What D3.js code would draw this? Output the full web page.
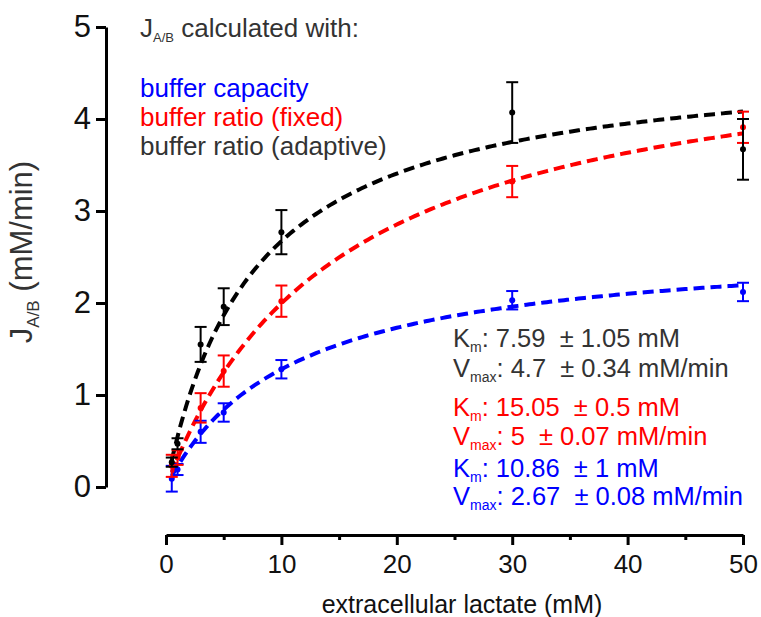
<!DOCTYPE html>
<html>
<head>
<meta charset="utf-8">
<script src="https://cdn.jsdelivr.net/npm/d3@7/dist/d3.min.js"></script>
<style>
  html, body { margin: 0; padding: 0; background: #fff; }
  svg { display: block; font-family: "Liberation Sans", Arial, sans-serif; }
  text { white-space: pre; }
</style>
</head>
<body>
<svg id="chart" width="761" height="617"></svg>
<script>
// Extracellular lactate concentrations (mM)
const conc = [0.5, 1, 3, 5, 10, 30, 50];

// J_A/B (mM/min), mean and error, for each calculation method
const capacityMean = [0.09, 0.19, 0.60, 0.81, 1.28, 2.03, 2.12];
const capacityErr  = [0.14, 0.06, 0.12, 0.10, 0.10, 0.10, 0.10];
const fixedMean    = [0.23, 0.32, 0.86, 1.26, 2.02, 3.32, 3.91];
const fixedErr     = [0.12, 0.08, 0.16, 0.17, 0.17, 0.17, 0.17];
const adaptiveMean = [0.27, 0.47, 1.55, 1.96, 2.77, 4.07, 3.67];
const adaptiveErr  = [0.05, 0.06, 0.19, 0.20, 0.24, 0.33, 0.33];

// Michaelis-Menten fit parameters: capacity, fixed, adaptive
const seriesNames = ["buffer capacity", "buffer ratio (fixed)", "buffer ratio (adaptive)"];
const seriesColors = ["#0000ff", "#ff0000", "#000000"];
const textColors = ["#0000ff", "#ff0000", "#333333"];
const fitKm      = [10.86, 15.05, 7.59];
const fitKmErr   = [1, 0.5, 1.05];
const fitVmax    = [2.67, 5, 4.7];
const fitVmaxErr = [0.08, 0.07, 0.34];

const xTicks = [0, 10, 20, 30, 40, 50];
const xMinorTicks = [5, 15, 25, 35, 45];
const yTicks = [0, 1, 2, 3, 4, 5];

const svg = d3.select("#chart");
const x = d3.scaleLinear().domain([0, 50]).range([166, 743]);
const y = d3.scaleLinear().domain([0, 5]).range([487, 27]);

// Axes (detached, Origin style)
const yAxisX = 106, xAxisY = 535;
const gy = svg.append("g").attr("transform", `translate(${yAxisX},0)`)
  .call(d3.axisLeft(y).tickValues(yTicks).tickFormat(d3.format("d"))
    .tickSize(10).tickSizeOuter(0).tickPadding(5));
const gx = svg.append("g").attr("transform", `translate(0,${xAxisY})`)
  .call(d3.axisBottom(x).tickValues(xTicks).tickFormat(d3.format("d"))
    .tickSize(10).tickSizeOuter(0).tickPadding(10));
svg.append("g").attr("transform", `translate(0,${xAxisY})`)
  .call(d3.axisBottom(x).tickValues(xMinorTicks).tickSize(5).tickSizeOuter(0).tickFormat(""))
  .select(".domain").remove();

svg.selectAll(".domain, .tick line").attr("stroke", "#000").attr("stroke-width", 3);
gy.selectAll(".tick text").attr("font-size", 31).attr("fill", "#111")
  .attr("font-family", "Liberation Sans, Arial, sans-serif");
gx.selectAll(".tick text").attr("font-size", 26).attr("fill", "#111")
  .attr("font-family", "Liberation Sans, Arial, sans-serif");

// Axis titles
svg.append("text")
  .attr("x", 462).attr("y", 613)
  .attr("text-anchor", "middle").attr("font-size", 25).attr("fill", "#111")
  .text("extracellular lactate (mM)");

const yt = svg.append("text")
  .attr("transform", `translate(32,252) rotate(-90)`)
  .attr("text-anchor", "middle").attr("font-size", 31).attr("fill", "#333");
yt.append("tspan").text("J");
yt.append("tspan").attr("font-size", 17).attr("dy", 7).text("A/B");
yt.append("tspan").attr("dy", -7).text(" (mM/min)");

// Fitted Michaelis-Menten curves
const series = [
  { mean: capacityMean, err: capacityErr },
  { mean: fixedMean, err: fixedErr },
  { mean: adaptiveMean, err: adaptiveErr }
];
const curveX = d3.range(0.5, 50.01, 0.25);
const line = d3.line().x(d => x(d[0])).y(d => y(d[1]));

series.forEach((s, i) => {
  const pts = curveX.map(c => [c, fitVmax[i] * c / (fitKm[i] + c)]);
  svg.append("path").datum(pts)
    .attr("d", line).attr("fill", "none")
    .attr("stroke", seriesColors[i]).attr("stroke-width", 4)
    .attr("stroke-dasharray", "11,6");
});

// Data points with error bars
series.forEach((s, i) => {
  const g = svg.append("g").attr("stroke", seriesColors[i]).attr("fill", seriesColors[i]);
  const rows = conc.map((c, j) => ({ c, m: s.mean[j], e: s.err[j] }));
  const cap = 6;
  g.selectAll("line.v").data(rows).join("line")
    .attr("x1", d => x(d.c)).attr("x2", d => x(d.c))
    .attr("y1", d => y(d.m + d.e)).attr("y2", d => y(d.m - d.e))
    .attr("stroke-width", 2);
  g.selectAll("line.t").data(rows).join("line")
    .attr("x1", d => x(d.c) - cap).attr("x2", d => x(d.c) + cap)
    .attr("y1", d => y(d.m + d.e)).attr("y2", d => y(d.m + d.e))
    .attr("stroke-width", 2);
  g.selectAll("line.b").data(rows).join("line")
    .attr("x1", d => x(d.c) - cap).attr("x2", d => x(d.c) + cap)
    .attr("y1", d => y(d.m - d.e)).attr("y2", d => y(d.m - d.e))
    .attr("stroke-width", 2);
  g.selectAll("circle").data(rows).join("circle")
    .attr("cx", d => x(d.c)).attr("cy", d => y(d.m)).attr("r", 3).attr("stroke", "none");
});

// Legend
const legendX = 140;
const lt = svg.append("text").attr("x", legendX).attr("y", 37)
  .attr("font-size", 26).attr("fill", "#333");
lt.append("tspan").text("J");
lt.append("tspan").attr("font-size", 13).attr("dy", 5).text("A/B");
lt.append("tspan").attr("dy", -5).text(" calculated with:");

seriesNames.forEach((name, i) => {
  svg.append("text").attr("x", legendX).attr("y", 97 + i * 29)
    .attr("font-size", 26).attr("fill", textColors[i]).text(name);
});

// Fit parameter annotations: adaptive, fixed, capacity
const annotOrder = [2, 1, 0];
const annotY = [[347, 377], [416, 445], [477, 505]];
const annotX = 453;
annotOrder.forEach((i, k) => {
  const kt = svg.append("text").attr("x", annotX).attr("y", annotY[k][0])
    .attr("font-size", 25.5).attr("fill", textColors[i]);
  kt.append("tspan").text("K");
  kt.append("tspan").attr("font-size", 14).attr("dy", 5).text("m");
  kt.append("tspan").attr("dy", -5).text(`: ${fitKm[i]}  \u00b1 ${fitKmErr[i]} mM`);

  const vt = svg.append("text").attr("x", annotX).attr("y", annotY[k][1])
    .attr("font-size", 25.5).attr("fill", textColors[i]);
  vt.append("tspan").text("V");
  vt.append("tspan").attr("font-size", 14).attr("dy", 5).text("max");
  vt.append("tspan").attr("dy", -5).text(`: ${fitVmax[i]}  \u00b1 ${fitVmaxErr[i]} mM/min`);
});
</script>
</body>
</html>
